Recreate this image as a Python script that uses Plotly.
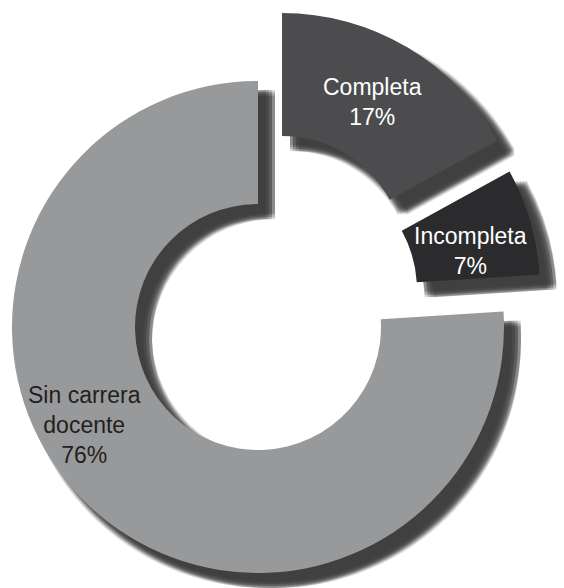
import plotly.graph_objects as go

# Teaching-career status of staff (share, %)
categories = ["Completa", "Incompleta", "Sin carrera docente"]
shares = [17, 7, 76]
label_lines = ["Completa", "Incompleta", "Sin carrera<br>docente"]

W, H = 564, 588
fills = ["#4c4c4e", "#2b2b2d", "#98999b"]
text_colors = ["#ffffff", "#ffffff", "#231f20"]
SHADOW = "rgba(58,58,60,0.20)"
CLEAR = "rgba(0,0,0,0)"

# Each sector is exploded on its own: centre of its ring in pixels
centres = [(282, 259), (294, 290), (258, 327)]
R = 246          # outer radius in pixels
HOLE = 0.5
label_xy = [(372, 102), (470, 251), (84, 425)]

# soft drop shadow: stacked, slightly jittered copies
shadow_dx = [8, 11, 14, 17]
shadow_dy = [9, 11, 13, 15]


def clamp(v):
    return min(1.0, max(0.0, round(v, 6)))


def domain(cx, cy):
    return dict(x=[clamp((cx - R) / W), clamp((cx + R) / W)],
                y=[clamp(1 - (cy + R) / H), clamp(1 - (cy - R) / H)])


def sector(i, cx, cy, colour):
    cols = [colour if j == i else CLEAR for j in range(len(categories))]
    return go.Pie(
        labels=categories, values=shares, sort=False,
        direction="clockwise", rotation=0, hole=HOLE,
        domain=domain(cx, cy),
        marker=dict(colors=cols, line=dict(width=0)),
        textinfo="none", hoverinfo="skip", showlegend=False,
    )


fig = go.Figure()

for i, (cx, cy) in enumerate(centres):
    for dx in shadow_dx:
        for dy in shadow_dy:
            fig.add_trace(sector(i, cx + dx, cy + dy, SHADOW))

for i, (cx, cy) in enumerate(centres):
    fig.add_trace(sector(i, cx, cy, fills[i]))

for i, (lx, ly) in enumerate(label_xy):
    fig.add_annotation(
        x=lx / W, y=1 - ly / H, xref="paper", yref="paper",
        text=f"{label_lines[i]}<br>{shares[i]}%", showarrow=False,
        xanchor="center", yanchor="middle", align="center",
        font=dict(family="Liberation Sans, Arial, sans-serif", size=23,
                  color=text_colors[i]),
    )

fig.update_layout(
    width=W, height=H, margin=dict(l=0, r=0, t=0, b=0),
    paper_bgcolor="white", plot_bgcolor="white", showlegend=False,
)

fig.write_html("out.html")
